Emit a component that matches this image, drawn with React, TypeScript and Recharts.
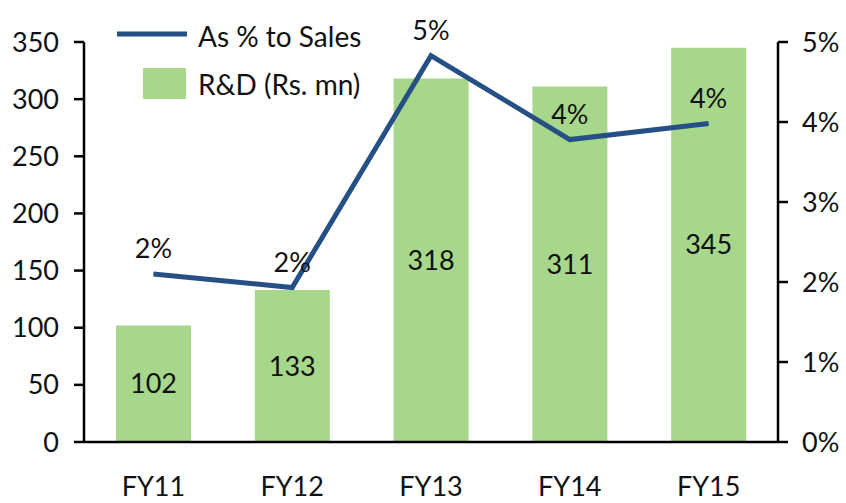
import React from "react";
import { ComposedChart, Bar, Line, XAxis, YAxis, LabelList } from "recharts";

const years = ["FY11", "FY12", "FY13", "FY14", "FY15"];
const rdValues = [102, 133, 318, 311, 345];
const salesPct = [2.1, 1.93, 4.83, 3.78, 3.98];
const leftTicks = [0, 50, 100, 150, 200, 250, 300, 350];
const rightTicks = [0, 1, 2, 3, 4, 5];

const data = years.map((y, i) => ({ year: y, rd: rdValues[i], pct: salesPct[i] }));

const FONT = "Lato, 'Open Sans', sans-serif";
const BAR = "#a6d78a";
const LINE = "#264f86";
const tickStyle = { fill: "#111", fontSize: 27, fontFamily: FONT };

export default function App() {
  return (
    <div style={{ position: "absolute", left: 0, top: 0, width: 846, height: 503, background: "#fff" }}>
      <ComposedChart width={846} height={503} data={data} margin={{ top: 42, right: 0, bottom: 0, left: 0 }}>
        <XAxis
          dataKey="year"
          height={61}
          tickLine={false}
          tickSize={0}
          tickMargin={35}
          axisLine={{ stroke: "#000", strokeWidth: 2.5 }}
          tick={tickStyle}
        />
        <YAxis
          yAxisId="left"
          width={84}
          domain={[0, 350]}
          ticks={leftTicks}
          tickSize={10}
          tickMargin={15}
          axisLine={{ stroke: "#000", strokeWidth: 2.5 }}
          tickLine={{ stroke: "#000", strokeWidth: 2.5 }}
          tick={tickStyle}
        />
        <YAxis
          yAxisId="right"
          orientation="right"
          width={68}
          domain={[0, 5]}
          ticks={rightTicks}
          tickFormatter={(v) => `${v}%`}
          tickSize={10}
          tickMargin={14}
          axisLine={{ stroke: "#000", strokeWidth: 2.5 }}
          tickLine={{ stroke: "#000", strokeWidth: 2.5 }}
          tick={tickStyle}
        />
        <Bar yAxisId="left" dataKey="rd" fill={BAR} barSize={75} isAnimationActive={false}>
          <LabelList dataKey="rd" position="center" style={{ fill: "#111", fontSize: 27, fontFamily: FONT }} />
        </Bar>
        <Line
          yAxisId="right"
          dataKey="pct"
          type="linear"
          stroke={LINE}
          strokeWidth={5}
          dot={false}
          activeDot={false}
          isAnimationActive={false}
        >
          <LabelList
            dataKey="pct"
            position="top"
            offset={16}
            formatter={(v: any) => `${Math.round(Number(v))}%`}
            style={{ fill: "#111", fontSize: 27, fontFamily: FONT }}
          />
        </Line>
      </ComposedChart>
      <svg width={846} height={503} style={{ position: "absolute", left: 0, top: 0, pointerEvents: "none" }}>
        <line x1={117} x2={187} y1={34} y2={34} stroke={LINE} strokeWidth={5} />
        <text x={198} y={47} fontSize={28} fontFamily={FONT} fill="#111">As % to Sales</text>
        <rect x={143} y={68} width={43} height={31} fill={BAR} />
        <text x={198} y={95} fontSize={28} fontFamily={FONT} fill="#111">R&amp;D (Rs. mn)</text>
      </svg>
    </div>
  );
}
